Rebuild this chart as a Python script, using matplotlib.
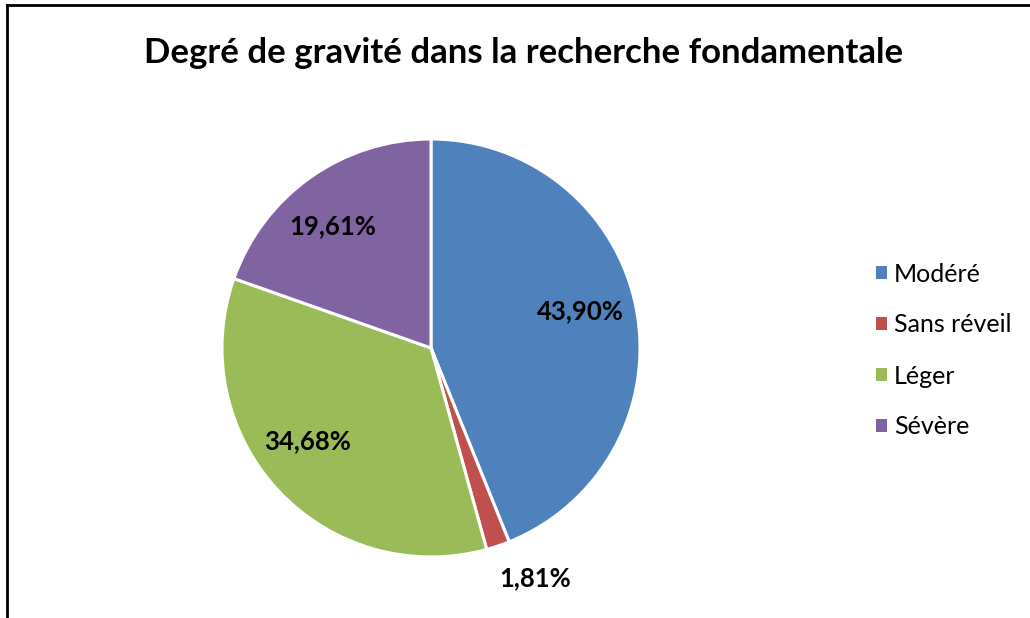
import numpy as np
import matplotlib
matplotlib.use("Agg")
import matplotlib.pyplot as plt
from matplotlib.lines import Line2D
from matplotlib.patches import Patch

plt.rcParams["font.family"] = ["Lato", "DejaVu Sans"]

TITLE = "Degré de gravité dans la recherche fondamentale"
CATEGORIES = ["Modéré", "Sans réveil", "Léger", "Sévère"]
VALUES = [43.90, 1.81, 34.68, 19.61]
LABELS = ["43,90%", "1,81%", "34,68%", "19,61%"]
COLORS = ["#4F81BD", "#C0504D", "#9BBB59", "#8064A2"]
# label placement relative to each wedge: distance (radii) and angle shift (deg)
LABEL_DIST = [0.735, 1.21, 0.741, 0.749]
LABEL_SHIFT = [3.0, 5.6, -6.0, 3.5]

W, H = 1030, 618
fig = plt.figure(figsize=(W / 100, H / 100), dpi=100)

# pie area: centre ~ (431, 348) px, radius ~ 209 px
cx, cy, r = 431, 348, 209
ax = fig.add_axes([(cx - r) / W, (H - cy - r) / H, 2 * r / W, 2 * r / H])
wedges, _ = ax.pie(VALUES, colors=COLORS, startangle=90, counterclock=False,
                   radius=1.0, wedgeprops=dict(edgecolor="white", linewidth=2.2))
ax.set_xlim(-1, 1)
ax.set_ylim(-1, 1)
ax.set_aspect("equal")
ax.axis("off")

for w, lab, d, s in zip(wedges, LABELS, LABEL_DIST, LABEL_SHIFT):
    mid = np.deg2rad((w.theta1 + w.theta2) / 2 + s)
    ax.text(d * np.cos(mid), d * np.sin(mid), lab, ha="center", va="center",
            fontsize=18.5, fontweight="bold", color="black", clip_on=False)

fig.text(524 / W, 1 - 53 / H, TITLE, ha="center", va="center",
         fontsize=25, fontweight="bold")

handles = [Patch(facecolor=c, edgecolor="none") for c in COLORS]
fig.legend(handles, CATEGORIES, loc="upper left",
           bbox_to_anchor=(863 / W, 1 - 250 / H), frameon=False,
           fontsize=18, handlelength=0.45, handleheight=0.45,
           handletextpad=0.3, labelspacing=1.12, borderpad=0)

# chart frame (only left and top edges fall inside the image)
fig.add_artist(Line2D([7 / W, 7 / W], [0, 1 - 5 / H], color="black", lw=2))
fig.add_artist(Line2D([7 / W, 1], [1 - 5 / H, 1 - 5 / H], color="black", lw=2))

fig.savefig("out.png", dpi=100, facecolor="white")
